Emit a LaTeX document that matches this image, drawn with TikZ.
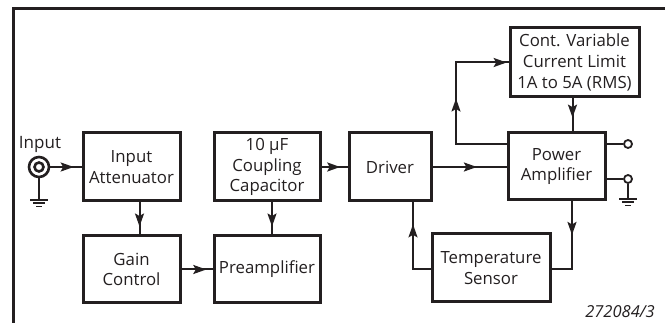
\documentclass[tikz,border=0pt]{standalone}
\usepackage{fontspec}
\setmainfont{Open Sans}
\usepackage{tikz}
\usetikzlibrary{arrows.meta, decorations.markings, calc}

\definecolor{ink}{RGB}{35,31,32}

\tikzset{
  block/.style={draw=ink, text=ink, line width=3pt, inner sep=0pt, align=center,
    font=\fontsize{16.8}{20.7}\selectfont},
  conn/.style={draw=ink, line width=2pt},
  flow/.style={postaction={decorate, decoration={markings,
    mark=at position #1 with {\arrow[ink]{Stealth[length=13pt,width=9pt,inset=2.5pt]}}}}},
  jackring/.style={circle, draw=ink, line width=2.6pt, inner sep=0pt},
  term/.style={circle, draw=ink, line width=1.8pt, fill=white, inner sep=0pt, minimum size=8pt},
}

\begin{document}
\begin{tikzpicture}[x=1pt, y=-1pt]
    \useasboundingbox (0,0) rectangle (665,323);

    % Frame
    \draw[ink, line width=3pt] (13,323) -- (13,9) -- (665,9);

    % Input jack
    \node[jackring, minimum size=20pt] (jack) at (39,167) {};
    \node[jackring, minimum size=9pt] (jackin) at (jack) {};
    \node[text=ink, font=\fontsize{17}{20}\selectfont] (inlbl) at (40,144) {Input};

    % Blocks
    \node[block, minimum width=97pt, minimum height=68pt] (att) at (131.5,167) {Input\\Attenuator};
    \node[block, minimum width=97pt, minimum height=67pt] (gain) at (131.5,269.5) {Gain\\Control};
    \node[block, minimum width=106pt, minimum height=68pt] (cap) at (267,167) {10 µF\\Coupling\\Capacitor};
    \node[block, minimum width=106pt, minimum height=67pt] (pre) at (267,269.5) {Preamplifier};
    \node[block, minimum width=82pt, minimum height=68pt] (drv) at (390,167) {Driver};
    \node[block, minimum width=97pt, minimum height=67pt] (pa) at (556.5,166.5) {Power\\Amplifier};
    \node[block, minimum width=129pt, minimum height=69pt] (lim) at (574.5,62.5) {Cont. Variable\\Current Limit\\1A to 5A (RMS)};
    \node[block, minimum width=118pt, minimum height=68pt] (temp) at (491,268) {Temperature\\Sensor};

    % Output terminals
    \node[term] (outa) at (628,144) {};
    \node[term] (outb) at (628,179) {};

    % Signal path
    \draw[conn, flow=0.75] (jack.east) -- (att.west);
    \draw[conn, flow=0.75] ([xshift=8pt]att.south) -- ([xshift=8pt]att.south |- gain.north);
    \draw[conn, flow=0.8] (gain.east) -- (gain.east -| pre.west);
    \draw[conn, flow=0.75] ([xshift=5pt]cap.south) -- ([xshift=5pt]cap.south |- pre.north);
    \draw[conn, flow=0.72] (cap.east) -- (drv.west);
    \draw[conn, flow=0.6] (drv.east) -- (drv.east -| pa.west);

    % Current limit loop
    \coordinate (tapa) at (pa.west |- outa);
    \coordinate (bend) at (456,144);
    \draw[conn, flow=96pt, flow=0.99] (tapa) -- (bend) |- (lim.west);
    \draw[conn, flow=0.58] ([xshift=-2pt]lim.south) -- ([xshift=-2pt]lim.south |- pa.north);

    % Temperature loop
    \draw[conn, flow=0.38] ([xshift=15.5pt]pa.south) |- ([yshift=-1pt]temp.east);
    \draw[conn, flow=0.74] ([yshift=-1pt]temp.west) -| ([xshift=23pt]drv.south);

    % Outputs
    \draw[conn] (pa.east |- outa) -- (outa.west);
    \draw[conn] (pa.east |- outb) -- (outb.west);

    % Grounds
    \draw[conn] (jack.south) -- (39,200);
    \draw[conn] (outb.south) -- (628,199);
    \foreach \gx/\gy in {39/200, 628/199} {
        \foreach \i/\w in {0/9, 1/6, 2/3} {
            \draw[ink, line width=1.6pt] (\gx-\w,\gy+\i*3.3) -- (\gx+\w,\gy+\i*3.3);
        }
    }

    % Figure number
    \node[text=ink, font=\itshape\fontsize{16.5}{19}\selectfont] (fignum) at (620,312) {272084/3};
\end{tikzpicture}
\end{document}
